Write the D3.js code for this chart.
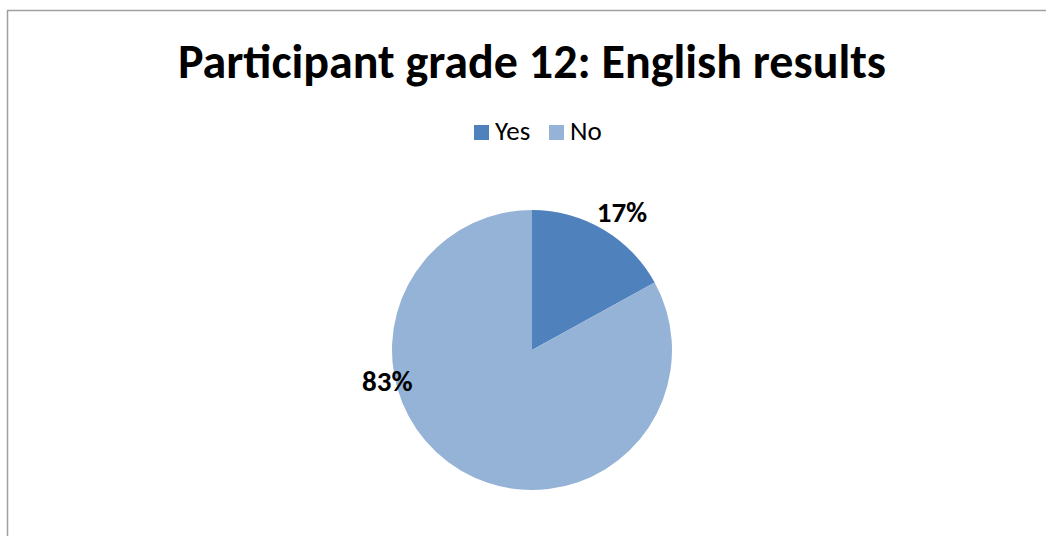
<!DOCTYPE html>
<html><head><meta charset="utf-8">
<script src="https://cdn.jsdelivr.net/npm/d3@7"></script>
<style>body{margin:0;background:#fff;}svg{display:block;}</style>
</head><body>
<svg id="c" width="1046" height="536"></svg>
<script>
const categories = ["Yes", "No"];
const values = [17, 83];
const colors = ["#4F81BD", "#95B3D7"];
const title = "Participant grade 12: English results";

const svg = d3.select("#c");
const W = 1046, H = 536;
const font = "Carlito, Calibri, Lato, 'Open Sans', sans-serif";

svg.append("rect").attr("x", 7.5).attr("y", 10.5).attr("width", W).attr("height", H)
  .attr("fill", "#fff").attr("stroke", "#a0a0a0").attr("stroke-width", 1.5);

svg.append("text").attr("x", 532).attr("y", 78).attr("text-anchor", "middle")
  .attr("font-family", font).attr("font-weight", "bold").attr("font-size", 48)
  .attr("fill", "#000").text(title);

// legend
const lg = svg.append("g").attr("transform", "translate(474,125)");
const items = lg.selectAll("g").data(categories).enter().append("g")
  .attr("transform", (d, i) => `translate(${i * 75},0)`);
items.append("rect").attr("width", 15).attr("height", 15).attr("fill", (d, i) => colors[i]);
items.append("text").attr("x", 21).attr("y", 15).attr("font-family", font)
  .attr("font-size", 27).attr("fill", "#000").text(d => d);

const cx = 532, cy = 350, R = 140;
const pie = d3.pie().sort(null).value(d => d)(values);
const arc = d3.arc().innerRadius(0).outerRadius(R);
const g = svg.append("g").attr("transform", `translate(${cx},${cy})`);
g.selectAll("path").data(pie).enter().append("path")
  .attr("d", arc).attr("fill", (d, i) => colors[i]);

const total = d3.sum(values);
// label placement similar to Excel best-fit
const labelArc = d3.arc().innerRadius(R + 25).outerRadius(R + 25);
g.selectAll("text.lbl").data(pie).enter().append("text")
  .attr("class", "lbl")
  .attr("transform", (d, i) => {
    if (i === 0) {
      const c = labelArc.centroid(d);
      return `translate(${c[0] + 6},${c[1] + 4})`;
    }
    const a = -Math.PI * 0.567;
    return `translate(${Math.sin(a) * (R + 8)},${-Math.cos(a) * (R + 8)})`;
  })
  .attr("text-anchor", "middle").attr("dy", "0.35em")
  .attr("font-family", font).attr("font-weight", "bold").attr("font-size", 29)
  .attr("fill", "#000")
  .text(d => Math.round(d.data / total * 100) + "%");
</script>
</body></html>
